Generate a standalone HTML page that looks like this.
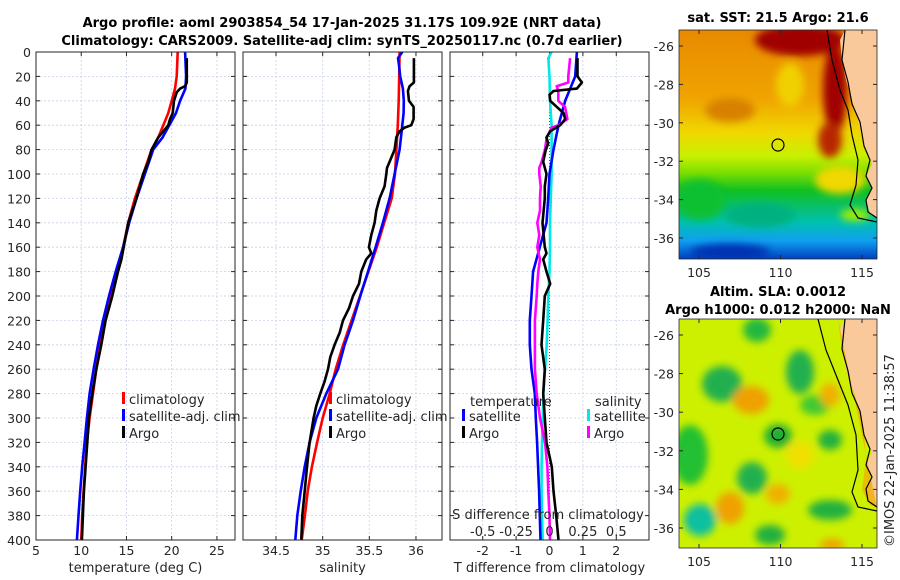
<!DOCTYPE html>
<html><head><meta charset="utf-8"><style>
body{margin:0;background:#fff;}
svg{display:block;font-family:"DejaVu Sans","Liberation Sans",sans-serif;}
.t{font-size:12.5px;fill:#262626;}
.b{font-weight:bold;font-size:13px;fill:#000;}
.grid{stroke:#c8d0e8;stroke-width:0.8;stroke-dasharray:2,2;}
</style></head><body>
<svg id="fig" width="900" height="580" viewBox="0 0 900 580">
<defs>
<linearGradient id="sstg" x1="0" y1="0" x2="0" y2="1">
<stop offset="0" stop-color="#e88a00"/><stop offset="0.3" stop-color="#f0a400"/>
<stop offset="0.45" stop-color="#f0d800"/><stop offset="0.55" stop-color="#c8f000"/>
<stop offset="0.62" stop-color="#80e000"/><stop offset="0.7" stop-color="#10c020"/>
<stop offset="0.84" stop-color="#00c0b0"/><stop offset="0.92" stop-color="#10a0f0"/>
<stop offset="1" stop-color="#0040c0"/></linearGradient>
<filter id="bl"><feGaussianBlur stdDeviation="4"/></filter>
<clipPath id="c1"><rect x="679" y="30" width="198" height="229"/></clipPath>
<clipPath id="c2"><rect x="679" y="319" width="198" height="229"/></clipPath>
</defs>
<text class="b" x="342" y="27" text-anchor="middle">Argo profile: aoml 2903854_54 17-Jan-2025 31.17S 109.92E (NRT data)</text>
<text class="b" x="342" y="45" text-anchor="middle">Climatology: CARS2009. Satellite-adj clim: synTS_20250117.nc (0.7d earlier)</text>
<g id="panels"></g>

<!-- SST map -->
<g>
<g clip-path="url(#c1)">
<rect x="679" y="30" width="198" height="229" fill="url(#sstg)"/>
<g filter="url(#bl)">
<ellipse cx="800" cy="40" rx="45" ry="16" fill="#a00000"/>
<ellipse cx="835" cy="90" rx="12" ry="45" fill="#a00000"/>
<ellipse cx="830" cy="140" rx="12" ry="18" fill="#b82800"/>
<ellipse cx="790" cy="85" rx="14" ry="22" fill="#f0d000"/>
<ellipse cx="730" cy="110" rx="25" ry="12" fill="#d88000"/>
<ellipse cx="700" cy="200" rx="25" ry="20" fill="#10c030"/>
<ellipse cx="760" cy="215" rx="35" ry="12" fill="#00b080"/>
<ellipse cx="840" cy="180" rx="25" ry="14" fill="#f0d800"/>
<ellipse cx="855" cy="215" rx="15" ry="6" fill="#a0f000"/>
<ellipse cx="730" cy="252" rx="40" ry="8" fill="#0030b0"/>
</g>
<path d="M845,30 L862,30 L877,30 L877,218 L870,214 L866,200 L872,188 L866,176 L872,164 L864,146 L858,120 L852,100 L846,80 L842,60 L840,40 Z" fill="#f9c89b"/>
<path d="M827,30 L832,60 L840,90 L848,110 L852,135 L858,160 L856,185 L850,205 L858,218 L877,222" fill="none" stroke="#000" stroke-width="1.2"/>
<path d="M845,30 L842,60 L848,82 L852,104 L860,122 L864,146 L870,160 L866,176 L872,188 L866,200 L868,212 L877,218" fill="none" stroke="#000" stroke-width="1.2"/>
<circle cx="778" cy="145" r="6" fill="none" stroke="#000" stroke-width="1.2"/>
</g>
<rect x="679" y="30" width="198" height="229" fill="none" stroke="#262626" stroke-width="0.8"/>
<text class="b" x="778" y="22" text-anchor="middle">sat. SST: 21.5 Argo: 21.6</text>
</g>

<!-- SLA map -->
<g>
<g clip-path="url(#c2)">
<rect x="679" y="319" width="198" height="229" fill="#cdf000"/>
<g filter="url(#bl)">
<ellipse cx="757" cy="330" rx="14" ry="12" fill="#20b840"/>
<ellipse cx="722" cy="384" rx="20" ry="18" fill="#20b050"/>
<ellipse cx="800" cy="372" rx="14" ry="22" fill="#20b050"/>
<ellipse cx="778" cy="436" rx="14" ry="12" fill="#20b030"/>
<ellipse cx="752" cy="478" rx="15" ry="16" fill="#20b050"/>
<ellipse cx="700" cy="520" rx="16" ry="16" fill="#10c0a0"/>
<ellipse cx="830" cy="440" rx="12" ry="10" fill="#20b040"/>
<ellipse cx="690" cy="455" rx="18" ry="30" fill="#20c030"/>
<ellipse cx="830" cy="510" rx="22" ry="10" fill="#20b040"/>
<ellipse cx="770" cy="535" rx="15" ry="10" fill="#20b040"/>
<ellipse cx="815" cy="405" rx="15" ry="10" fill="#40c830"/>
<ellipse cx="751" cy="400" rx="18" ry="14" fill="#f0a000"/>
<ellipse cx="730" cy="508" rx="14" ry="16" fill="#f0a000"/>
<ellipse cx="778" cy="494" rx="12" ry="10" fill="#f0b000"/>
<ellipse cx="830" cy="395" rx="10" ry="12" fill="#f0b000"/>
<ellipse cx="832" cy="545" rx="12" ry="6" fill="#f0a000"/>
<ellipse cx="800" cy="455" rx="14" ry="14" fill="#f0e000"/>
</g>
<path d="M845,319 L877,319 L877,507 L870,503 L866,489 L872,477 L866,465 L872,453 L864,435 L858,409 L852,389 L846,369 L842,349 L840,329 Z" fill="#f9c89b"/>
<path d="M838,319 L842,349 L850,380 L858,405 L864,430 L866,460 L862,490 L870,505 L877,508" fill="#f0b000" opacity="0.8"/>
<path d="M818,319 L826,350 L838,380 L848,405 L856,435 L858,470 L852,492 L858,507 L877,511" fill="none" stroke="#000" stroke-width="1.2"/>
<path d="M845,319 L842,349 L848,371 L852,393 L860,411 L864,435 L870,449 L866,465 L872,477 L866,489 L868,501 L877,507" fill="none" stroke="#000" stroke-width="1.2"/>
<circle cx="778" cy="434" r="6" fill="none" stroke="#000" stroke-width="1.2"/>
</g>
<rect x="679" y="319" width="198" height="229" fill="none" stroke="#262626" stroke-width="0.8"/>
<text class="b" x="778" y="296" text-anchor="middle">Altim. SLA: 0.0012</text>
<text class="b" x="778" y="314" text-anchor="middle">Argo h1000: 0.012 h2000: NaN</text>
</g>
<text class="t" transform="translate(894,547) rotate(-90)" style="font-size:13px">©IMOS 22-Jan-2025 11:38:57</text>
<g id="maplabels"></g>
</svg>
<script>
// Temperature panel data
const tClimDepth=[0,20,30,40,50,60,70,80,100,120,140,160,180,200,220,240,260,280,300,320,340,360,380,400];
const tClimVal=[20.67,20.56,20.37,20.0,19.63,19.07,18.52,17.78,16.85,15.93,15.19,14.63,13.89,13.22,12.59,12.11,11.67,11.30,10.93,10.63,10.44,10.26,10.11,10.0];
const tSatDepth=[0,20,30,40,50,60,70,80,100,120,140,160,180,200,220,240,260,280,300,320,340,360,380,400];
const tSatVal=[21.48,21.59,21.52,20.93,20.48,19.74,19.0,17.96,17.04,16.11,15.30,14.63,13.81,13.07,12.41,11.85,11.37,10.93,10.63,10.37,10.11,9.89,9.70,9.52];
const tArgoDepth=[5,25,28,30,33,40,50,55,60,65,70,80,90,100,120,140,160,170,180,200,220,240,260,280,300,320,340,360,380,400];
const tArgoVal=[21.67,21.67,21.48,20.93,20.56,20.26,20.11,19.81,19.63,19.07,18.52,17.78,17.41,16.85,16.11,15.19,14.70,14.44,14.07,13.44,12.70,12.22,11.67,11.22,10.85,10.67,10.48,10.30,10.19,10.07];
// Salinity panel data
const sClimDepth=[0,20,40,60,80,100,120,140,160,180,200,220,240,260,280,300,320,340,360,380,400];
const sClimVal=[35.825,35.82,35.815,35.805,35.79,35.775,35.74,35.66,35.58,35.49,35.40,35.31,35.22,35.14,35.075,35.0,34.94,34.885,34.84,34.81,34.775];
const sSatDepth=[0,5,10,20,30,40,50,60,80,100,120,140,160,180,200,220,240,260,280,300,320,340,360,380,400];
const sSatVal=[35.853,35.807,35.817,35.831,35.86,35.87,35.867,35.853,35.825,35.771,35.717,35.646,35.567,35.486,35.403,35.325,35.235,35.164,35.039,34.932,34.86,34.807,34.764,34.728,34.707];
const sArgoDepth=[5,25,28,32,40,45,55,60,62,65,70,80,90,95,100,110,120,130,140,150,160,165,170,180,190,200,210,220,230,240,250,260,270,280,290,300,320,340,360,380,400];
const sArgoVal=[35.978,35.978,35.932,35.914,35.925,35.975,35.975,35.95,35.878,35.825,35.789,35.771,35.717,35.689,35.682,35.664,35.61,35.575,35.557,35.521,35.496,35.521,35.467,35.414,35.389,35.325,35.282,35.218,35.182,35.128,35.082,35.057,35.021,34.975,34.932,34.903,34.86,34.832,34.807,34.782,34.771];
// Difference panel data
const dTSatDepth=[0,20,40,60,80,100,120,140,160,180,200,220,240,260,280,300,320,340,360,380,400];
const dTSatVal=[0.82,0.77,0.47,0.27,0.12,0.0,-0.04,-0.09,-0.29,-0.49,-0.54,-0.59,-0.59,-0.54,-0.44,-0.41,-0.37,-0.34,-0.31,-0.29,-0.27];
const dTArgoDepth=[5,20,25,30,32,35,40,45,50,55,60,65,70,75,80,90,100,110,120,140,160,165,170,180,190,200,220,240,260,280,300,320,340,360,380,400];
const dTArgoVal=[0.84,0.84,0.97,0.82,0.12,0.0,0.02,0.22,0.42,0.47,0.32,0.02,-0.09,-0.04,-0.11,-0.19,-0.09,-0.14,-0.14,-0.21,-0.14,-0.09,-0.19,-0.09,0.02,-0.14,-0.19,-0.24,-0.14,-0.19,-0.14,-0.09,0.07,0.12,0.2,0.27];
const dSSatDepth=[0,5,20,40,60,80,100,140,160,180,200,220,240,260,280,300,320,340,360,380,400];
const dSSatVal=[0.016,-0.009,0,0.004,0.016,0.016,0.016,0.004,0.004,0,-0.009,-0.014,-0.021,-0.034,-0.046,-0.051,-0.056,-0.059,-0.059,-0.056,-0.051];
const dSArgoDepth=[5,20,25,28,32,40,45,55,60,62,65,70,80,90,95,100,110,120,130,140,150,160,170,180,190,200,220,240,260,280,300,320,340,360,380,400];
const dSArgoVal=[0.154,0.141,0.141,0.054,0.066,0.066,0.116,0.134,0.066,0.016,0.004,-0.021,-0.034,-0.059,-0.076,-0.076,-0.066,-0.071,-0.071,-0.091,-0.076,-0.091,-0.071,-0.084,-0.091,-0.096,-0.109,-0.109,-0.109,-0.096,-0.071,-0.034,-0.016,-0.009,0,0.004];
const depthTicks=[0,20,40,60,80,100,120,140,160,180,200,220,240,260,280,300,320,340,360,380,400];
const tTicks=[5,10,15,20,25];
const sTicks=[34.5,35,35.5,36];
const dTTicks=[-2,-1,0,1,2];
const dSTickLabels=['-0.5','-0.25','0','0.25','0.5'];
const dSTicks=[-0.5,-0.25,0,0.25,0.5];
const latTicks=[-26,-28,-30,-32,-34,-36];
const lonTicks=[105,110,115];

const NS='http://www.w3.org/2000/svg';
const root=document.getElementById('panels');
function mk(tag,attrs,parent){const e=document.createElementNS(NS,tag);for(const k in attrs)e.setAttribute(k,attrs[k]);(parent||root).appendChild(e);return e;}
const Y0=52,Y1=540;
function yD(d){return Y0+(d/400)*(Y1-Y0);}
function linX(x0,x1,v0,v1){return v=>x0+(v-v0)/(v1-v0)*(x1-x0);}

const panels=[
 {x0:36,x1:235,v0:5,v1:27,ticks:tTicks,lab:'temperature (deg C)',name:'temperature-panel'},
 {x0:243,x1:442,v0:34.146,v1:36.279,ticks:sTicks,lab:'salinity',name:'salinity-panel'},
 {x0:450,x1:649,v0:-2.98,v1:2.98,ticks:dTTicks,lab:'T difference from climatology',name:'difference-panel'}
];
panels.forEach((p,i)=>{
 const g=mk('g',{});
 
 
 p.g=g;p.x=linX(p.x0,p.x1,p.v0,p.v1);
 mk('rect',{x:p.x0,y:Y0,width:p.x1-p.x0,height:Y1-Y0,fill:'#fff'},g);
 depthTicks.forEach(d=>{
  if(d>0&&d<400)mk('line',{x1:p.x0,x2:p.x1,y1:yD(d),y2:yD(d),class:'grid'},g);
  mk('line',{x1:p.x0,x2:p.x0+4,y1:yD(d),y2:yD(d),stroke:'#262626'},g);
  mk('line',{x1:p.x1,x2:p.x1-4,y1:yD(d),y2:yD(d),stroke:'#262626'},g);
  if(i===0){const t=mk('text',{x:31,y:yD(d)+5,'text-anchor':'end',class:'t'},g);t.textContent=d;
   
   }
 });
 p.ticks.forEach(v=>{
  const xx=p.x(v);
  if(i===2&&v===0)mk('line',{x1:xx,x2:xx,y1:Y0,y2:Y1,stroke:'#555','stroke-dasharray':'1,2'},g);
  else mk('line',{x1:xx,x2:xx,y1:Y0,y2:Y1,class:'grid'},g);
  mk('line',{x1:xx,x2:xx,y1:Y1,y2:Y1-4,stroke:'#262626'},g);
  mk('line',{x1:xx,x2:xx,y1:Y0,y2:Y0+4,stroke:'#262626'},g);
  const t=mk('text',{x:xx,y:555,'text-anchor':'middle',class:'t'},g);t.textContent=v;
  
  
 });
 const xl=mk('text',{x:(p.x0+p.x1)/2,y:572,'text-anchor':'middle',class:'t',style:'font-size:13px'},g);xl.textContent=p.lab;
 
 
});
function line(p,D,V,col,name,scale){
 const pts=D.map((d,k)=>p.x(V[k]*(scale||1)).toFixed(1)+','+yD(d).toFixed(1)).join(' ');
 const e=mk('polyline',{points:pts,fill:'none',stroke:col,'stroke-width':2.6,'stroke-linejoin':'round'},p.g);
 
 
}
const P=panels;
line(P[0],tClimDepth,tClimVal,'#ff0000','temperature-climatology-line');
line(P[0],tSatDepth,tSatVal,'#0000ff','temperature-satellite-line');
line(P[0],tArgoDepth,tArgoVal,'#000','temperature-argo-line');
line(P[1],sClimDepth,sClimVal,'#ff0000','salinity-climatology-line');
line(P[1],sSatDepth,sSatVal,'#0000ff','salinity-satellite-line');
line(P[1],sArgoDepth,sArgoVal,'#000','salinity-argo-line');
line(P[2],dSSatDepth,dSSatVal,'#00e8e8','salinity-satellite-diff-line',4);
line(P[2],dTSatDepth,dTSatVal,'#0000ff','temperature-satellite-diff-line');
line(P[2],dSArgoDepth,dSArgoVal,'#ff00ff','salinity-argo-diff-line',4);
line(P[2],dTArgoDepth,dTArgoVal,'#000','temperature-argo-diff-line');
panels.forEach(p=>mk('rect',{x:p.x0,y:Y0,width:p.x1-p.x0,height:Y1-Y0,fill:'none',stroke:'#262626','stroke-width':1},p.g));

function legend(g,x,y,col,txt){
 const e=mk('g',{},g);
 
 
 mk('rect',{x:x,y:y-9,width:3,height:12,fill:col},e);
 const t=mk('text',{x:x+7,y:y+3,class:'t',style:'font-size:13px'},e);t.textContent=txt;
}
[[P[0],122],[P[1],329]].forEach(([p,x])=>{
 legend(p.g,x,401,'#ff0000','climatology');
 legend(p.g,x,418,'#0000ff','satellite-adj. clim');
 legend(p.g,x,435,'#000','Argo');
});
{const g=P[2].g;
 const t1=mk('text',{x:470,y:406,class:'t',style:'font-size:13px'},g);t1.textContent='temperature';
 const t2=mk('text',{x:595,y:406,class:'t',style:'font-size:13px'},g);t2.textContent='salinity';
 legend(g,462,418,'#0000ff','satellite');legend(g,462,435,'#000','Argo');
 legend(g,587,418,'#00e8e8','satellite');legend(g,587,435,'#ff00ff','Argo');
 const st=mk('text',{x:548,y:519,'text-anchor':'middle',class:'t',style:'font-size:13px'},g);st.textContent='S difference from climatology';
 
 
 dSTicks.forEach((v,k)=>{const t=mk('text',{x:P[2].x(v*4),y:536,'text-anchor':'middle',class:'t',style:'font-size:13px'},g);t.textContent=dSTickLabels[k];
  
  });
}
// map ticks
const ml=document.getElementById('maplabels');
[[30,46,19.2],[319,335,19.3]].forEach(([top,y26,pd])=>{
 latTicks.forEach(l=>{const y=y26+(-26-l)*pd;
  mk('line',{x1:679,x2:683,y1:y,y2:y,stroke:'#262626'},ml);
  mk('line',{x1:877,x2:873,y1:y,y2:y,stroke:'#262626'},ml);
  const t=mk('text',{x:674,y:y+5,'text-anchor':'end',class:'t'},ml);t.textContent=l;
  
  });
 const bot=top+229;
 lonTicks.forEach(l=>{const x=699+(l-105)*16.3;
  mk('line',{x1:x,x2:x,y1:bot,y2:bot-4,stroke:'#262626'},ml);
  mk('line',{x1:x,x2:x,y1:top,y2:top+4,stroke:'#262626'},ml);
  const t=mk('text',{x:x,y:bot+18,'text-anchor':'middle',class:'t'},ml);t.textContent=l;
  
  });
});
</script>
</body></html>
